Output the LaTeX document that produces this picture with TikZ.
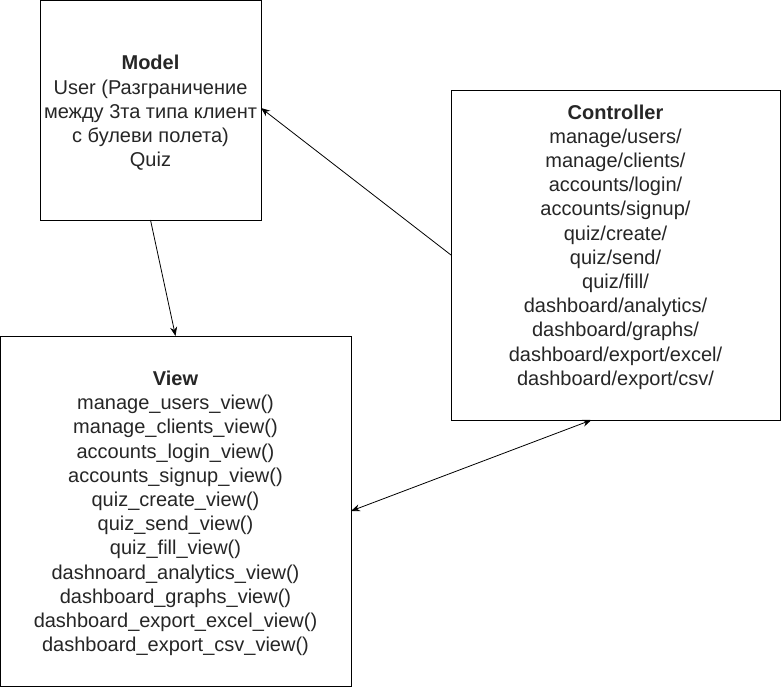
\documentclass[tikz,border=0pt]{standalone}
\usepackage{fontspec}
\setmainfont{Liberation Sans}
\usetikzlibrary{arrows.meta,calc}
\begin{document}
\begin{tikzpicture}[x=1pt,y=-1pt,
  box/.style={draw=black,line width=1pt,inner sep=0pt,outer sep=0pt},
  txt/.style={align=center,font=\fontsize{20}{24.2}\selectfont,text=black!85,inner sep=0pt},
  conn/.style={line width=0.8pt,-{Stealth[length=9pt,width=7pt]}},
  dconn/.style={line width=0.8pt,{Stealth[length=9pt,width=7pt]}-{Stealth[length=9pt,width=7pt]}}]
\useasboundingbox (0,0) rectangle (781,686);
\fill[white] (0,0) rectangle (781,686);
\node[box,minimum width=221pt,minimum height=220pt] (model) at (150.5,110) {};
\node[box,minimum width=329pt,minimum height=330pt] (ctrl) at (615.5,255) {};
\node[box,minimum width=351pt,minimum height=350pt] (view) at (175.5,511) {};
\node[txt] (modeltxt) at (150.5,113) {\textbf{Model}\\User (Разграничение\\между 3та типа клиент\\с булеви полета)\\Quiz};
\node[txt] (ctrltxt) at (615.5,247) {\textbf{Controller}\\manage/users/\\manage/clients/\\accounts/login/\\accounts/signup/\\quiz/create/\\quiz/send/\\quiz/fill/\\dashboard/analytics/\\dashboard/graphs/\\dashboard/export/excel/\\dashboard/export/csv/};
\node[txt] (viewtxt) at (175.5,513.5) {\textbf{View}\\manage\_users\_view()\\manage\_clients\_view()\\accounts\_login\_view()\\accounts\_signup\_view()\\quiz\_create\_view()\\quiz\_send\_view()\\quiz\_fill\_view()\\dashnoard\_analytics\_view()\\dashboard\_graphs\_view()\\dashboard\_export\_excel\_view()\\dashboard\_export\_csv\_view()};
\draw[conn] (model.south) -- (view.north);
\draw[conn] (ctrl.west) -- ([yshift=2pt]model.east);
\draw[dconn] (view.east) -- ([xshift=-24pt]ctrl.south);
\end{tikzpicture}
\end{document}
